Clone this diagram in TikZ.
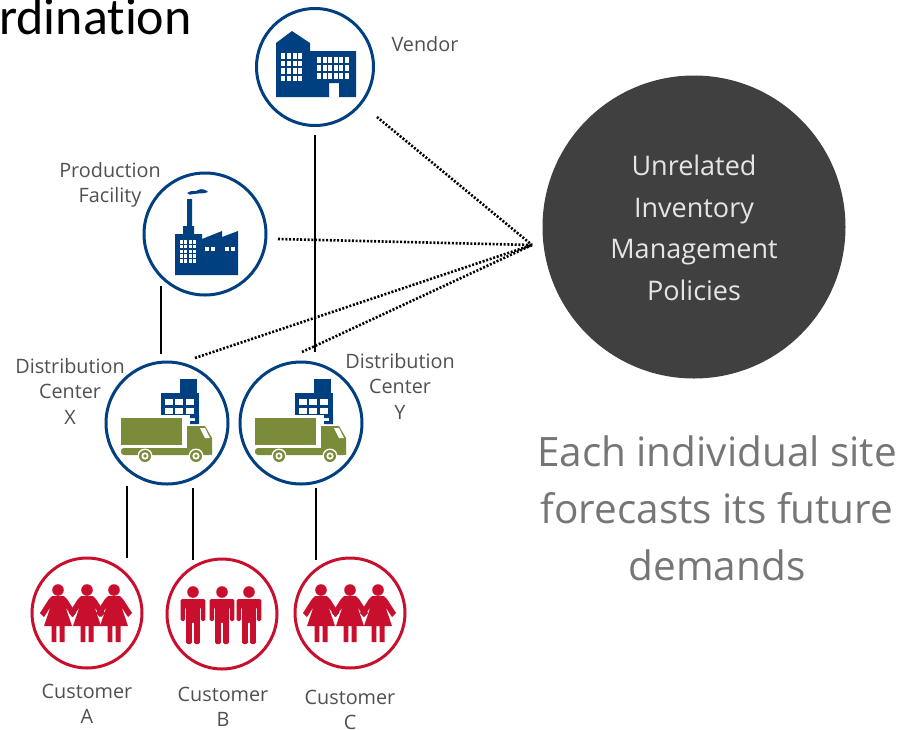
\documentclass[tikz,border=0pt]{standalone}
\usepackage{fontspec}
\setmainfont{Open Sans}
\newfontfamily\headfont[Ligatures=NoCommon]{Carlito}
\definecolor{navy}{HTML}{004080}
\definecolor{olive}{HTML}{7A8B3A}
\definecolor{crim}{HTML}{C8102E}
\definecolor{darkdisc}{HTML}{404040}
\definecolor{labelgray}{HTML}{505050}
\definecolor{sidegray}{HTML}{767676}
\usetikzlibrary{calc}
\tikzset{
  x=1pt,y=-1pt,
  ring/.style={circle,draw=#1,line width=3pt,fill=white,inner sep=0pt},
  linkline/.style={draw=black,line width=1.3pt},
  dotline/.style={draw=black,line width=2.6pt,dash pattern=on 2pt off 1.7pt},
  lab/.style={font=\fontsize{19.8}{25.5}\selectfont,text=labelgray,align=center,inner sep=0pt},
  pics/dcicon/.style={code={
    \fill[navy] (13,-44) rectangle (30,-30);
    \fill[navy] (-6,-30) rectangle (32,-8);
    \fill[navy] (23,-8) -- (32,-8) -- (32,1) -- (23,1) -- (23,-2) -- (28,-2) -- (28,-5) -- (23,-5) -- cycle;
    \foreach \wx in {-2,8,19} \foreach \wy in {-24,-15} \fill[white] (\wx,\wy) rectangle ++(8,5.5);
    \fill[olive] (-46,-5) rectangle (15,22);
    \fill[olive] (20,3) -- (38,3) -- (45,15) -- (45,32) -- (20,25) -- cycle;
    \fill[white] (33,5) -- (38,5) -- (43,15) -- (38,15) -- cycle;
    \fill[olive,rounded corners=3pt] (-46,25) -- (45,25) -- (45,32) -- (-46,32) -- cycle;
    \foreach \wx in {-22,29} {
      \fill[white] (\wx,33) circle (7.5);
      \fill[olive] (\wx,33) circle (6);
      \fill[white] (\wx,33) circle (3.6);
      \fill[olive] (\wx,33) circle (1.8);
    }
  }},
  pics/womanicon/.style={code={
    \fill[crim] (0,-23) circle (5.8);
    \fill[crim] (-6,-17) -- (6,-17) -- (9,-14) -- (18,0) -- (14,4) -- (7.5,-6) -- (14,13) -- (6.5,13) -- (6.5,29) -- (1.7,29) -- (1.7,13) -- (-1.7,13) -- (-1.7,29) -- (-6.5,29) -- (-6.5,13) -- (-14,13) -- (-7.5,-6) -- (-14,4) -- (-18,0) -- (-9,-14) -- cycle;
  }},
  pics/manicon/.style={code={
    \fill[crim] (0,-23) circle (5.8);
    \fill[crim,rounded corners=1.5pt] (-12.3,-16) -- (12.3,-16) -- (12.3,6) -- (7.8,6) -- (7.8,-8) -- (6.8,-8) -- (6.8,29) -- (1.2,29) -- (1.2,7) -- (-1.2,7) -- (-1.2,29) -- (-6.8,29) -- (-6.8,-8) -- (-7.8,-8) -- (-7.8,6) -- (-12.3,6) -- cycle;
  }},
}
\begin{document}
\begin{tikzpicture}
\clip (0,0) rectangle (900,729);
\fill[white] (0,0) rectangle (900,729);

% rings
\node[ring=navy,minimum size=117pt] (vendor) at (315,67) {};
\node[ring=navy,minimum size=122pt] (plant) at (205,234) {};
\node[ring=navy,minimum size=122pt] (dcx) at (167,423) {};
\node[ring=navy,minimum size=122pt] (dcy) at (301,423) {};
\node[ring=crim,minimum size=110pt] (custa) at (87,613) {};
\node[ring=crim,minimum size=110pt] (custb) at (222,614) {};
\node[ring=crim,minimum size=110pt] (custc) at (350,613) {};
\node[circle,fill=darkdisc,inner sep=0pt,minimum size=303pt] (policy) at (694,227) {};

% vendor icon
\fill[navy] (276,43) -- (292,31) -- (310,43) -- (310,51) -- (356,51) -- (356,97) -- (339,97) -- (339,83) -- (329,83) -- (329,97) -- (276,97) -- cycle;
\foreach \wx in {281,287,292.5,298} \foreach \wy in {53,60.5,68,75.5} \fill[white] (\wx,\wy) rectangle ++(4,5.5);
\foreach \wx in {317,322.5,328,333.5,339,344.5} \foreach \wy in {57,65,73} \fill[white] (\wx,\wy) rectangle ++(4,6);

% factory icon
\fill[navy] (175,234) -- (183,234) -- (183,226) -- (187,226) -- (187,199) -- (192,199) -- (192,226) -- (194,226) -- (194,234) -- (202,234) -- (202,239) -- (222,231) -- (222,237) -- (238,231) -- (238,275) -- (175,275) -- cycle;
\fill[navy] (187,193) .. controls (192,189) and (196,193) .. (198,190) .. controls (202,188) and (206,190) .. (208,192) .. controls (204,194) and (198,193) .. (194,194) .. controls (191,195) and (188,195) .. (187,193) -- cycle;
\foreach \wx in {180,184.3,188.6,192.9} \foreach \wy in {240,244.8,249.6,254.4,259.2} \fill[white] (\wx,\wy) rectangle ++(3,3.5);
\foreach \wx in {204.5,210.5,225,231} \fill[white] (\wx,247) rectangle ++(4,4);

% dc and customer icons
\pic at (167,423) {dcicon};
\pic at (301,423) {dcicon};
\foreach \px in {58,87,114} \pic at (\px,613) {womanicon};
\foreach \px in {193,222,249} \pic at (\px,615) {manicon};
\foreach \px in {321,350,378} \pic at (\px,613) {womanicon};

% connector end points
\coordinate (hub) at (532,245);
\coordinate (vbot) at (315,135);
\coordinate (ytop) at (315,352);
\coordinate (pbot) at (161,286);
\coordinate (xtop) at (161,354);
\coordinate (xa) at (127,486);
\coordinate (atop) at (127,558);
\coordinate (xb) at (193,488);
\coordinate (btop) at (193,560);
\coordinate (yc) at (316,488);
\coordinate (ctop) at (316,560);
\coordinate (vdot) at (377,117);
\coordinate (pdot) at (278,239);
\coordinate (xdot) at (195,358);
\coordinate (ydot) at (302,352);

\draw[linkline] (vbot) -- (ytop);
\draw[linkline] (pbot) -- (xtop);
\draw[linkline] (xa) -- (atop);
\draw[linkline] (xb) -- (btop);
\draw[linkline] (yc) -- (ctop);
\draw[dotline] (vdot) -- (hub);
\draw[dotline] (pdot) -- (hub);
\draw[dotline] (xdot) -- (hub);
\draw[dotline] (ydot) -- (hub);

% texts
\node[anchor=base west,inner sep=0pt,font=\headfont\fontsize{52}{52}\selectfont,text=black] (title) at (-1,34) {rdination};
\node[lab] (lvendor) at (425,44) {Vendor};
\node[lab] (lplant) at (110,185) {Production\\Facility};
\node[lab] (lx) at (70,391) {Distribution\\Center\\X};
\node[lab] (ly) at (400,386) {Distribution\\Center\\Y};
\node[lab] (la) at (87,704) {Customer\\A};
\node[lab] (lb) at (223,707) {Customer\\B};
\node[lab] (lc) at (350,710) {Customer\\C};
\node[font=\fontsize{27}{41.5}\selectfont,text=white!90!black,align=center,inner sep=0pt] (lpolicy) at (694,228) {Unrelated\\Inventory\\Management\\Policies};
\node[font=\fontsize{40.5}{57}\selectfont,text=sidegray,align=center,inner sep=0pt] (lside) at (717,508) {Each individual site\\forecasts its future\\demands};
\end{tikzpicture}
\end{document}
